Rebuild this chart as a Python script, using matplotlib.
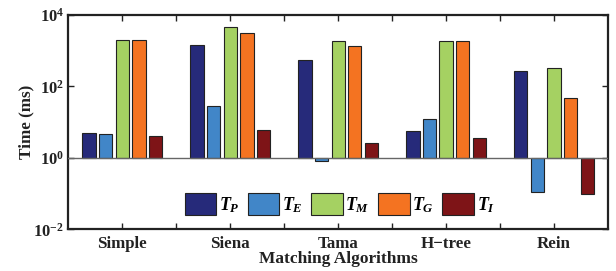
import matplotlib
matplotlib.use("Agg")
import matplotlib.pyplot as plt
import numpy as np
from matplotlib.ticker import FixedLocator, FuncFormatter

plt.rcParams['font.family'] = ['Liberation Serif', 'DejaVu Serif']
plt.rcParams['mathtext.fontset'] = 'custom'
plt.rcParams['mathtext.rm'] = 'Liberation Serif:bold'
plt.rcParams['mathtext.bf'] = 'Liberation Serif:bold'
plt.rcParams['mathtext.it'] = 'Liberation Serif:italic:bold'

categories = ["Simple", "Siena", "Tama", "H\u2212tree", "Rein"]
series_names = [r"$T_P$", r"$T_E$", r"$T_M$", r"$T_G$", r"$T_I$"]
T_P = [4.9, 1410, 537, 5.5, 275]
T_E = [4.6, 27.5, 0.79, 12.1, 0.114]
T_M = [2040, 4500, 1820, 1820, 318]
T_G = [2040, 3080, 1320, 1820, 47]
T_I = [4.2, 6.0, 2.6, 3.6, 0.094]
colors = ["#262a7a", "#4186c8", "#a5d162", "#f47321", "#7e1417"]
ytick_vals = [1e-2, 1e0, 1e2, 1e4]

fig = plt.figure(figsize=(6.16, 2.71), dpi=100)
ax = fig.add_axes([0.111, 0.154, 0.876, 0.791])

series = [T_P, T_E, T_M, T_G, T_I]
n = len(series)
x = np.arange(1, len(categories) + 1)
group_w = min(0.8, n / (n + 1.5))
step = group_w / n
bw = step * 0.8
for i, (vals, c, name) in enumerate(zip(series, colors, series_names)):
    v = np.array(vals)
    pos = x + (i - (n - 1) / 2) * step
    ax.bar(pos, v - 1, bottom=1, width=bw, color=c, edgecolor='#222222',
           linewidth=0.8, label=name, zorder=2)

ax.set_yscale('log')
ax.set_ylim(1e-2, 1e4)
ax.set_xlim(0.5, 5.5)
ax.axhline(1, color='#666666', linewidth=1.0, zorder=3)

ax.yaxis.set_major_locator(FixedLocator(ytick_vals))
ax.yaxis.set_minor_locator(FixedLocator([]))
ax.yaxis.set_major_formatter(FuncFormatter(
    lambda v, p: r"$\mathbf{10^{%d}}$" % int(round(np.log10(v)))))
ax.set_xticks(x)
ax.set_xticks(np.arange(1.5, 5.0, 1.0), minor=True)
ax.set_xticklabels(categories, fontweight='bold', fontsize=12.2)
ax.tick_params(axis='both', which='both', direction='in', top=True, right=True,
               length=4, width=1, colors='#222222', labelcolor='#222222')
ax.tick_params(axis='y', labelsize=12, pad=3)
ax.tick_params(axis='x', pad=5)
for s in ax.spines.values():
    s.set_linewidth(1.6)
    s.set_color('#222222')

ax.set_ylabel("Time (ms)", fontweight='bold', fontsize=12.3, color='#222222', labelpad=-1)
ax.set_xlabel("Matching Algorithms", fontweight='bold', fontsize=12.5, color='#222222', labelpad=-1)

leg = ax.legend(loc='center', bbox_to_anchor=(0.503, 0.118), ncol=5, frameon=False,
                fontsize=13, handlelength=1.75, handleheight=1.45, handletextpad=0.15,
                columnspacing=0.45, borderpad=0.1)

fig.savefig("out.png", dpi=100)
